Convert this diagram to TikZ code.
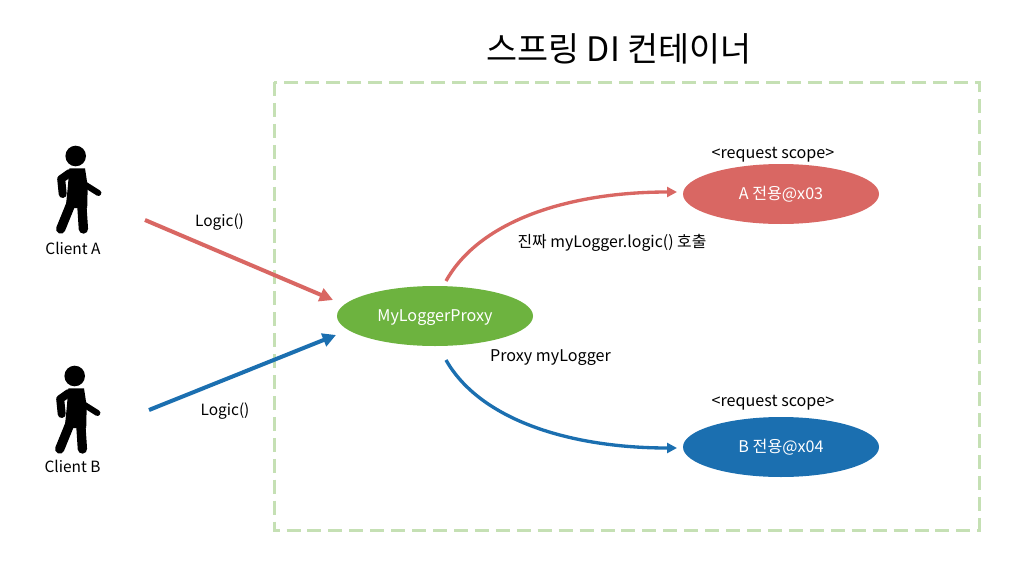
\documentclass[tikz,border=0pt]{standalone}
\usepackage{fontspec}
\usetikzlibrary{shapes.geometric,arrows.meta}
\setmainfont{Noto Sans CJK KR}
\definecolor{rd}{HTML}{D96763}
\definecolor{bl}{HTML}{1B6FB0}
\definecolor{gn}{HTML}{6DB33F}
\definecolor{dsh}{HTML}{C5E0B4}
\newcommand{\lowered}[1]{\raisebox{-4.4pt}[0pt][0pt]{#1}}
\tikzset{
  lbl/.style={inner sep=0pt,font=\fontsize{12.1pt}{14pt}\selectfont,text=black},
  lblsm/.style={inner sep=0pt,font=\fontsize{11.6pt}{14pt}\selectfont,text=black},
  lblmid/.style={inner sep=0pt,font=\fontsize{11.9pt}{14pt}\selectfont,text=black},
  blob/.style={ellipse,minimum width=147pt,minimum height=45pt,inner sep=0pt,text=white,font=\fontsize{12.1pt}{14pt}\selectfont},
  conn/.style={line width=3pt,-{Triangle[length=10pt,width=10pt]}},
  curve/.style={line width=2.5pt,-{Triangle[length=7.5pt,width=7.5pt]}},
  limb/.style={line cap=round,line join=round,fill=none,draw=black},
}
\newcommand{\manfig}{%
  \fill (0,0) circle (10.3);
  \fill (-6.3,12.3) -- (9.3,12.3) -- (12,30) -- (11.5,52) -- (-10,52) -- (-8,32) -- cycle;
  \draw[limb,line width=6pt] (-6,17) -- (-14.5,23) -- (-13,38);
  \draw[limb,line width=4.5pt] (10,29) -- (22.7,37);
  \draw[limb,line width=7pt] (-4,46) -- (-15,73);
  \draw[limb,line width=7pt] (6,47) -- (7.7,73);
}
\begin{document}
\begin{tikzpicture}[x=0.75pt,y=-0.75pt]
\useasboundingbox (0,0) rectangle (1022,575);
\fill[white] (0,0) rectangle (1022,575);
\draw[dsh,line width=2.25pt,dash pattern=on 10.5pt off 5.2pt] (274,82) rectangle (979,530);
\node[inner sep=0pt,font=\fontsize{25.3pt}{30pt}\selectfont] (title) at (619,49) {스프링 DI 컨테이너};
\begin{scope}[shift={(75.7,156)}]\manfig\end{scope}
\begin{scope}[shift={(74.7,376)}]\manfig\end{scope}
\node[lblsm] (ca) at (73,248) {Client A};
\node[lblsm] (cb) at (72.5,466.5) {Client B};
\node[blob,fill=gn] (proxy) at (435,316) {\lowered{MyLoggerProxy}};
\node[blob,fill=rd] (a) at (781,194) {\lowered{A 전용@x03}};
\node[blob,fill=bl] (b) at (781,447) {\lowered{B 전용@x04}};
\coordinate (sa) at (145,220);
\coordinate (sb) at (149,410);
\coordinate (ea) at (333,300);
\coordinate (eb) at (336,335);
\coordinate (pa) at (446,281);
\coordinate (pb) at (446,360);
\coordinate (ta) at (677,192);
\coordinate (tb) at (677,448);
\draw[conn,rd] (sa) -- (ea);
\draw[conn,bl] (sb) -- (eb);
\draw[curve,rd] (pa) .. controls (480,220) and (570,192) .. (ta);
\draw[curve,bl] (pb) .. controls (480,420) and (570,448) .. (tb);
\node[lblsm] (la) at (219.5,222.5) {Logic()};
\node[lblsm] (lb) at (225,411.5) {Logic()};
\node[lblmid] (real) at (612,242.5) {진짜 myLogger.logic() 호출};
\node[lbl] (px) at (550.5,357.5) {Proxy myLogger};
\node[lbl] (sca) at (773,155) {<request scope>};
\node[lbl] (scb) at (773,403) {<request scope>};
\end{tikzpicture}
\end{document}
